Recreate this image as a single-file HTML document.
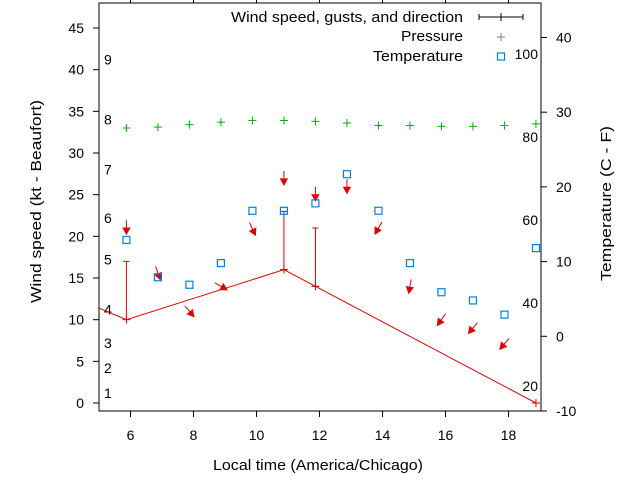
<!DOCTYPE html>
<html><head><meta charset="utf-8"><style>
html,body{margin:0;padding:0;background:#fff;}
svg{display:block;font-family:"Liberation Sans",sans-serif;}
</style></head><body>
<svg id="chart" width="640" height="480" viewBox="0 0 640 480" xmlns="http://www.w3.org/2000/svg"></svg>
<script>
const times=[5.87,6.87,7.87,8.87,9.87,10.87,11.87,12.87,13.87,14.87,15.87,16.87,17.87,18.87];
const pressure=[33,33.1,33.4,33.7,33.9,33.9,33.8,33.6,33.3,33.3,33.2,33.2,33.3,33.5];
const tempC=[12.9,7.9,6.9,9.8,16.8,16.8,17.8,21.7,16.8,9.8,5.9,4.8,2.9,11.8];
const windTimes=[4.87,5.87,10.87,11.87,18.87];
const windSpeed=[11.6,10,16,14,0];
const gustTimes=[5.87,10.87,11.87];
const gustLow=[10,16,14];
const gustHigh=[17,23,21];
const arrowTimes=[5.87,6.87,7.87,8.87,9.87,10.87,11.87,12.87,13.87,14.87,15.87,16.87,17.87];
const arrowLevel=[21.1,15.6,11.0,14.0,20.9,27,25.1,26,21,14,10,9,7.1];
const windDir=[360,340,320,300,335,360,360,360,30,10,35,40,40];
const xTicks=[6,8,10,12,14,16,18];
const yTicks=[0,5,10,15,20,25,30,35,40,45];
const cTicks=[-10,0,10,20,30,40];
const fTicks=[20,40,60,80,100];
const beaufort=[1,2,3,4,5,6,7,8,9];
const beaufortKt=[1.2,4.2,7.2,11.2,17.2,22.2,28,34,41.2];

const L=99,R=541,T=3,B=411;
const X=t=>L+(t-5)/(19.03-5)*(R-L);
const Y=v=>403-v*8.333;
const YC=c=>411-(c+10)*7.47;
const svg=document.getElementById('chart');
const NS='http://www.w3.org/2000/svg';
function mk(tag,attrs,parent){const e=document.createElementNS(NS,tag);for(const k in attrs)e.setAttribute(k,attrs[k]);(parent||svg).appendChild(e);return e;}
function txt(s,x,y,anchor,parent){const e=mk('text',{x:x,y:y,'font-size':14,'text-anchor':anchor||'start',fill:'#000'},parent);e.textContent=s;return e;}

const defs=mk('defs',{});const cp=mk('clipPath',{id:'pc'},defs);mk('rect',{x:L,y:T,width:R-L,height:B-T},cp);

xTicks.forEach(t=>{
 const g=mk('g',{});
 
 
 mk('line',{x1:X(t),x2:X(t),y1:B,y2:B+6,stroke:'#000'},g);
 mk('line',{x1:X(t),x2:X(t),y1:0,y2:T,stroke:'#000'},g);
 txt(String(t),X(t),440,'middle',g);
});
yTicks.forEach(v=>{
 const g=mk('g',{});
 
 
 mk('line',{x1:L-6,x2:L,y1:Y(v),y2:Y(v),stroke:'#000'},g);
 txt(String(v),84,Y(v)+5,'end',g);
});
cTicks.forEach(c=>{
 const g=mk('g',{});
 
 
 mk('line',{x1:R,x2:R+6,y1:YC(c),y2:YC(c),stroke:'#000'},g);
 txt(String(c),556,YC(c)+5,'start',g);
});
fTicks.forEach(f=>{
 const t=txt(String(f),538,YC((f-32)*5/9)+5,'end');
 
 
});
beaufort.forEach((b,i)=>{
 const t=txt(String(b),104,Y(beaufortKt[i])+5,'start');
 
 
});

const plot=mk('g',{'clip-path':'url(#pc)'});



const wl=mk('polyline',{points:windTimes.map((t,i)=>X(t)+','+Y(windSpeed[i])).join(' '),fill:'none',stroke:'#e00000','stroke-width':1},plot);


windTimes.forEach((t,i)=>{
 const p=mk('path',{d:`M${X(t)-4},${Y(windSpeed[i])}h8M${X(t)},${Y(windSpeed[i])-4}v8`,stroke:'#e00000'},plot);
 
 
});
gustTimes.forEach((t,i)=>{
 const p=mk('path',{d:`M${X(t)},${Y(gustLow[i])}V${Y(gustHigh[i])}M${X(t)-3},${Y(gustHigh[i])}h6M${X(t)-3},${Y(gustLow[i])}h6`,stroke:'#e00000',fill:'none'},plot);
 
 
});
arrowTimes.forEach((t,i)=>{
 const a=(windDir[i])*Math.PI/180;
 const dx=-Math.sin(a)*7, dy=Math.cos(a)*7;
 const cx=X(t),cy=Y(arrowLevel[i]);
 const x1=cx-dx,y1=cy-dy,x2=cx+dx,y2=cy+dy;
 const ang=Math.atan2(y2-y1,x2-x1);
 const h=7,w=0.5;
 const p1=[x2-h*Math.cos(ang-w),y2-h*Math.sin(ang-w)],p2=[x2-h*Math.cos(ang+w),y2-h*Math.sin(ang+w)];
 const g=mk('g',{},plot);
 
 
 mk('line',{x1:x1,y1:y1,x2:x2,y2:y2,stroke:'#e00000'},g);
 mk('polygon',{points:`${x2},${y2} ${p1[0]},${p1[1]} ${p2[0]},${p2[1]}`,fill:'#e00000',stroke:'#e00000'},g);
});
times.forEach((t,i)=>{
 const p=mk('path',{d:`M${X(t)-4},${Y(pressure[i])}h8M${X(t)},${Y(pressure[i])-4}v8`,stroke:'#00b000'},plot);
 
 
});
times.forEach((t,i)=>{
 const r=mk('rect',{x:X(t)-3.5,y:YC(tempC[i])-3.5,width:7,height:7,fill:'none',stroke:'#0080f0','stroke-width':1.2},plot);
 
 
});
</script>
<svg style="position:absolute;left:0;top:0" width="640" height="480" font-family="Liberation Sans, sans-serif" font-size="14">
 <rect x="99" y="3" width="442" height="408" fill="none" stroke="#000"/>
 <text x="231" y="22" font-size="15" textLength="232" lengthAdjust="spacingAndGlyphs">Wind speed, gusts, and direction</text>
 <path d="M479,17h44M479,14v6M523,14v6M501,13v8" stroke="#000" fill="none"/>
 <text x="401" y="41" font-size="15" textLength="62" lengthAdjust="spacingAndGlyphs">Pressure</text>
 <path d="M497,37h8M501,33v8" stroke="#808080"/>
 <text x="373" y="61" font-size="15" textLength="90" lengthAdjust="spacingAndGlyphs">Temperature</text>
 <rect x="497.5" y="53" width="7" height="7" fill="none" stroke="#0080f0" stroke-width="1.2"/>
 <text x="213" y="470" font-size="15" textLength="210" lengthAdjust="spacingAndGlyphs">Local time (America/Chicago)</text>
 <text x="0" y="0" font-size="15" textLength="203" lengthAdjust="spacingAndGlyphs" transform="translate(41,303) rotate(-90)">Wind speed (kt - Beaufort)</text>
 <text x="0" y="0" font-size="15" textLength="155" lengthAdjust="spacingAndGlyphs" transform="translate(611,281) rotate(-90)">Temperature (C - F)</text>
</svg>
</body></html>
